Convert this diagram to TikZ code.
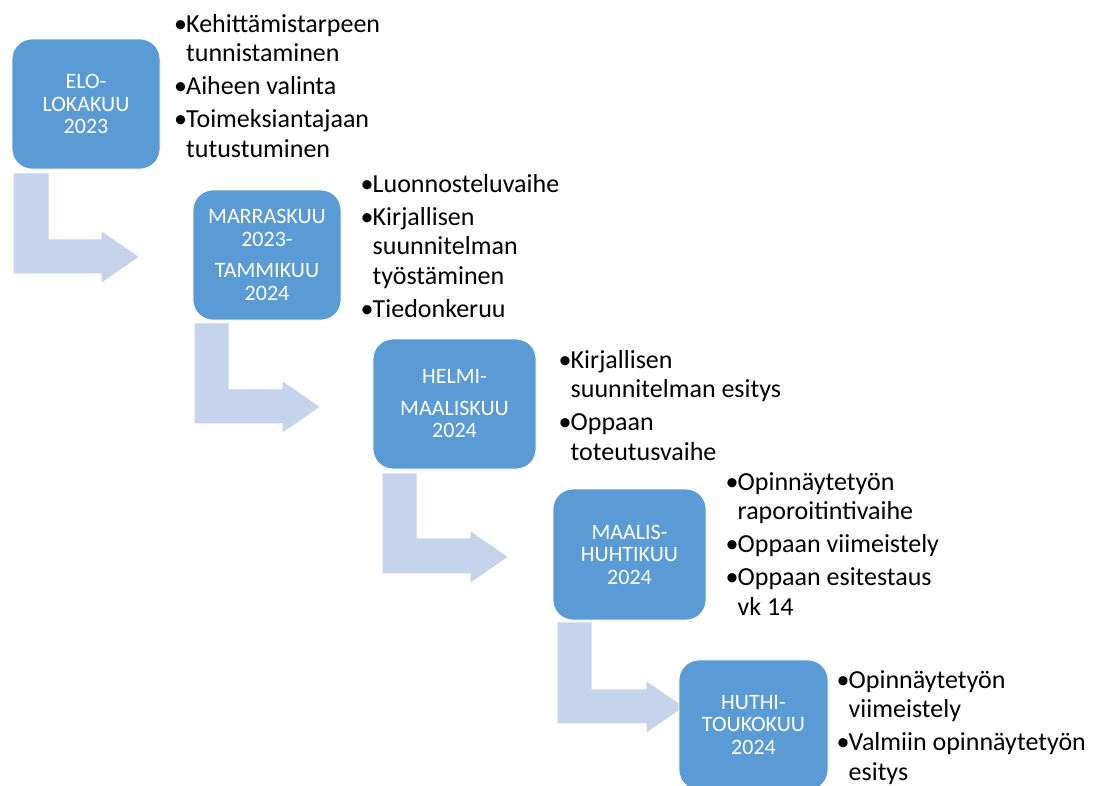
\documentclass[tikz,border=0pt]{standalone}
\usepackage{fontspec}
\setmainfont{Carlito}
\usetikzlibrary{calc,backgrounds}
\definecolor{boxblue}{HTML}{5B9BD5}
\definecolor{arrowblue}{HTML}{C5D4EA}
\newcommand{\bulitem}{\makebox[12pt][l]{•}}
\begin{document}
\begin{tikzpicture}[x=1pt,y=-1pt,
  stepbox/.style={draw=white, line width=0.8pt, fill=boxblue, rounded corners=20pt,
    minimum height=130pt, inner sep=0pt, align=center, text=white,
    font=\fontsize{22}{22.5}\selectfont},
  bentarrow/.style={fill=arrowblue, draw=none},
  listtext/.style={inner sep=0pt, anchor=base west, text=black,
    font=\fontsize{26}{29.6}\selectfont}
]
\clip (0,0) rectangle (1095,785);

% boxes
\path (86,104) node[stepbox, minimum width=148pt] (b1) {ELO-\\LOKAKUU\\2023};
\path (267,255) node[stepbox, minimum width=148pt] (b2) {MARRASKUU\\2023-\\[9pt]TAMMIKUU\\2024};
\path (454.5,404) node[stepbox, minimum width=163pt] (b3) {HELMI-\\[9pt]MAALISKUU\\2024};
\path (629.5,554.5) node[stepbox, minimum width=153pt, minimum height=131pt] (b4) {MAALIS-\\HUHTIKUU\\2024};
\path (753.5,725) node[stepbox, minimum width=149pt] (b5) {HUTHI-\\TOUKOKUU\\2024};

% bullet lists
\node[listtext] (t1) at (174,32) {\begin{tabular}[t]{@{}l@{}l@{}}
\bulitem&Kehittämistarpeen\\ &tunnistaminen\\[3.5pt]
\bulitem&Aiheen valinta\\[3.5pt]
\bulitem&Toimeksiantajaan\\ &tutustuminen\end{tabular}};
\node[listtext] (t2) at (360.5,192) {\begin{tabular}[t]{@{}l@{}l@{}}
\bulitem&Luonnosteluvaihe\\[3.5pt]
\bulitem&Kirjallisen\\ &suunnitelman\\ &työstäminen\\[3.5pt]
\bulitem&Tiedonkeruu\end{tabular}};
\node[listtext] (t3) at (558.5,368) {\begin{tabular}[t]{@{}l@{}l@{}}
\bulitem&Kirjallisen\\ &suunnitelman esitys\\[3.5pt]
\bulitem&Oppaan\\ &toteutusvaihe\end{tabular}};
\node[listtext] (t4) at (725.5,490) {\begin{tabular}[t]{@{}l@{}l@{}}
\bulitem&Opinnäytetyön\\ &raporoitintivaihe\\[3.5pt]
\bulitem&Oppaan viimeistely\\[3.5pt]
\bulitem&Oppaan esitestaus\\ &vk 14\end{tabular}};
\node[listtext] (t5) at (836.5,688) {\begin{tabular}[t]{@{}l@{}l@{}}
\bulitem&Opinnäytetyön\\ &viimeistely\\[3.5pt]
\bulitem&Valmiin opinnäytetyön\\ &esitys\end{tabular}};

% background and bent arrows (behind the boxes)
\begin{scope}[on background layer]
\fill[white] (0,0) rectangle (1095,785);
\fill[bentarrow] ($(b1.south west)+(2,4)$) -- ++(35,0) -- ++(0,66) -- ++(53,0) -- ++(0,-8)
  -- ++(37,25.5) -- ++(-37,25.5) -- ++(0,-9) -- ++(-88,0) -- cycle;
\fill[bentarrow] ($(b2.south west)+(2,3)$) -- ++(34,0) -- ++(0,66) -- ++(54,0) -- ++(0,-8)
  -- ++(37,25.5) -- ++(-37,25.5) -- ++(0,-9) -- ++(-88,0) -- cycle;
\fill[bentarrow] ($(b3.south west)+(10,4)$) -- ++(34,0) -- ++(0,65) -- ++(54,0) -- ++(0,-7)
  -- ++(37,25.5) -- ++(-37,25.5) -- ++(0,-9) -- ++(-88,0) -- cycle;
\fill[bentarrow] ($(b4.south west)+(5,2)$) -- ++(34,0) -- ++(0,67) -- ++(55,0) -- ++(0,-8)
  -- ++(37,25.5) -- ++(-37,25.5) -- ++(0,-9) -- ++(-89,0) -- cycle;
\end{scope}
\end{tikzpicture}
\end{document}
